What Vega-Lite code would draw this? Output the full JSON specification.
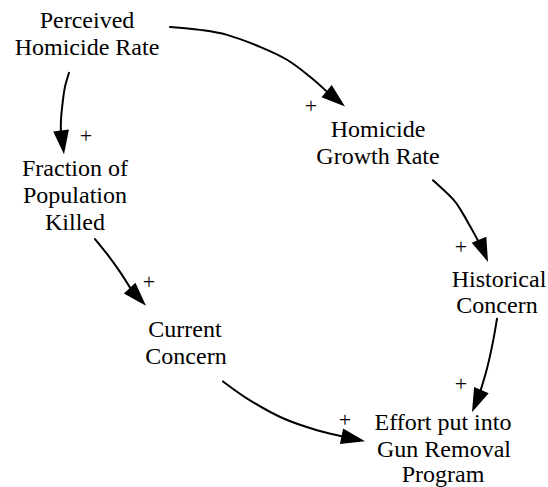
{
  "$schema": "https://vega.github.io/schema/vega-lite/v6.json",
  "width": 548,
  "height": 487,
  "padding": 0,
  "autosize": {"type": "fit", "contains": "padding"},
  "background": "white",
  "config": {"view": {"stroke": null}},
  "datasets": {
    "nodes": [
      {"label": "Perceived", "x": 87, "y": 28},
      {"label": "Homicide Rate", "x": 87, "y": 55},
      {"label": "Homicide", "x": 378, "y": 138},
      {"label": "Growth Rate", "x": 378, "y": 165},
      {"label": "Fraction of", "x": 75, "y": 177},
      {"label": "Population", "x": 75, "y": 204},
      {"label": "Killed", "x": 75, "y": 231},
      {"label": "Historical", "x": 499, "y": 288},
      {"label": "Concern", "x": 497, "y": 314},
      {"label": "Current", "x": 185, "y": 338},
      {"label": "Concern", "x": 186, "y": 366},
      {"label": "Effort put into", "x": 443, "y": 432},
      {"label": "Gun Removal", "x": 444, "y": 459},
      {"label": "Program", "x": 443, "y": 484}
    ],
    "links": [
      {"arrow": "a1", "seq": 1, "x": 170, "y": 27},
      {"arrow": "a1", "seq": 2, "x": 200, "y": 30},
      {"arrow": "a1", "seq": 3, "x": 227, "y": 35},
      {"arrow": "a1", "seq": 4, "x": 260, "y": 47},
      {"arrow": "a1", "seq": 5, "x": 287, "y": 60},
      {"arrow": "a1", "seq": 6, "x": 310, "y": 77},
      {"arrow": "a1", "seq": 7, "x": 328, "y": 93},
      {"arrow": "a2", "seq": 1, "x": 69, "y": 73},
      {"arrow": "a2", "seq": 2, "x": 65, "y": 87},
      {"arrow": "a2", "seq": 3, "x": 63, "y": 100},
      {"arrow": "a2", "seq": 4, "x": 61, "y": 120},
      {"arrow": "a2", "seq": 5, "x": 61, "y": 136},
      {"arrow": "a3", "seq": 1, "x": 433, "y": 181},
      {"arrow": "a3", "seq": 2, "x": 453, "y": 200},
      {"arrow": "a3", "seq": 3, "x": 462, "y": 213},
      {"arrow": "a3", "seq": 4, "x": 470, "y": 227},
      {"arrow": "a3", "seq": 5, "x": 481, "y": 247},
      {"arrow": "a4", "seq": 1, "x": 95, "y": 240},
      {"arrow": "a4", "seq": 2, "x": 107, "y": 255},
      {"arrow": "a4", "seq": 3, "x": 120, "y": 273},
      {"arrow": "a4", "seq": 4, "x": 132, "y": 292},
      {"arrow": "a5", "seq": 1, "x": 497, "y": 320},
      {"arrow": "a5", "seq": 2, "x": 493, "y": 343},
      {"arrow": "a5", "seq": 3, "x": 487, "y": 370},
      {"arrow": "a5", "seq": 4, "x": 480, "y": 394},
      {"arrow": "a6", "seq": 1, "x": 223, "y": 383},
      {"arrow": "a6", "seq": 2, "x": 250, "y": 402},
      {"arrow": "a6", "seq": 3, "x": 283, "y": 420},
      {"arrow": "a6", "seq": 4, "x": 317, "y": 432},
      {"arrow": "a6", "seq": 5, "x": 346, "y": 439}
    ],
    "heads": [
      {"arrow": "a1", "x": 345, "y": 107, "angle": 130},
      {"arrow": "a2", "x": 64, "y": 155, "angle": 173},
      {"arrow": "a3", "x": 488, "y": 263, "angle": 158},
      {"arrow": "a4", "x": 146, "y": 307, "angle": 137},
      {"arrow": "a5", "x": 472, "y": 414, "angle": 203},
      {"arrow": "a6", "x": 365, "y": 443, "angle": 102}
    ],
    "signs": [
      {"sign": "+", "x": 311, "y": 106},
      {"sign": "+", "x": 86, "y": 137},
      {"sign": "+", "x": 461, "y": 248},
      {"sign": "+", "x": 149, "y": 283},
      {"sign": "+", "x": 461, "y": 386},
      {"sign": "+", "x": 345, "y": 422}
    ]
  },
  "encoding": {
    "x": {"field": "x", "type": "quantitative", "axis": null,
          "scale": {"domain": [0, 548], "nice": false, "zero": false}},
    "y": {"field": "y", "type": "quantitative", "axis": null,
          "scale": {"domain": [0, 487], "nice": false, "zero": false, "reverse": true}}
  },
  "layer": [
    {
      "data": {"name": "links"},
      "mark": {"type": "line", "interpolate": "cardinal", "strokeWidth": 2, "color": "black", "strokeCap": "round"},
      "encoding": {
        "detail": {"field": "arrow", "type": "nominal"},
        "order": {"field": "seq", "type": "quantitative"}
      }
    },
    {
      "data": {"name": "heads"},
      "mark": {"type": "point", "shape": "M0,0L0.66,2L-0.66,2Z", "filled": true, "size": 576, "color": "black", "opacity": 1, "strokeWidth": 0},
      "encoding": {
        "angle": {"field": "angle", "type": "quantitative", "scale": null}
      }
    },
    {
      "data": {"name": "signs"},
      "mark": {"type": "text", "font": "Liberation Serif, Times New Roman, serif", "fontSize": 22, "align": "center", "baseline": "middle", "fill": "#000000"},
      "encoding": {"text": {"field": "sign"}}
    },
    {
      "data": {"name": "nodes"},
      "mark": {"type": "text", "font": "Liberation Serif, Times New Roman, serif", "fontSize": 24, "align": "center", "baseline": "alphabetic", "fill": "#000000"},
      "encoding": {"text": {"field": "label"}}
    }
  ]
}
